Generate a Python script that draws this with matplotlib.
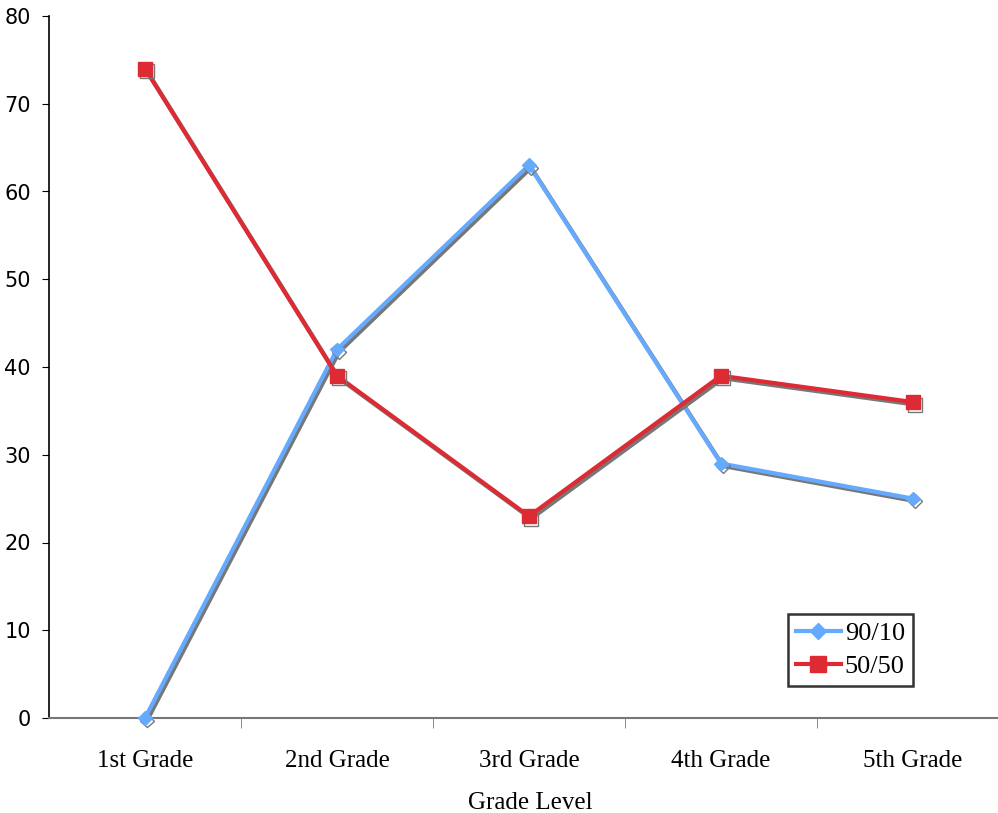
import matplotlib.pyplot as plt
import matplotlib.patheffects as pe
from matplotlib.lines import Line2D
import numpy as np

grades = ["1st Grade", "2nd Grade", "3rd Grade", "4th Grade", "5th Grade"]
s_90_10 = [0, 42, 63, 29, 25]
s_50_50 = [74, 39, 23, 39, 36]

blue = "#66aaff"
red = "#dd2a33"

W, H = 998, 813
fig = plt.figure(figsize=(W / 100, H / 100), dpi=100)
# axes spans from x=49 to 1009 px (right part runs off the canvas), y from 16 to 718 px
ax = fig.add_axes([49 / W, (H - 718) / H, 960 / W, (718 - 16) / H])

shadow = [pe.SimpleLineShadow(offset=(1.5, -1.8), shadow_color="#777777", alpha=1.0), pe.Normal()]
x = np.arange(len(grades))
ax.plot(x, s_90_10, color=blue, lw=3, marker="D", ms=7, mec=blue,
        path_effects=shadow, clip_on=False, zorder=3)
ax.plot(x, s_50_50, color=red, lw=3, marker="s", ms=10, mec=red,
        path_effects=shadow, clip_on=False, zorder=4)

ax.set_xlim(-0.5, 4.5)
ax.set_ylim(0, 80)
ax.set_yticks(range(0, 81, 10))
ax.set_xticks(x)
ax.set_xticklabels(grades, fontfamily="Liberation Serif", fontsize=18)
ax.set_xticks(np.arange(0.5, 4, 1), minor=True)
ax.tick_params(axis="x", which="major", length=0, pad=23)
ax.tick_params(axis="x", which="minor", length=7, color="#777777", direction="out")
ax.tick_params(axis="y", length=5, labelsize=15, pad=8)

for side in ["top", "right"]:
    ax.spines[side].set_visible(False)
ax.spines["bottom"].set_color("#777777")
ax.spines["bottom"].set_linewidth(1.5)
ax.spines["left"].set_linewidth(1.2)

ax.set_xlabel("Grade Level", fontfamily="Liberation Serif", fontsize=18)
ax.xaxis.set_label_coords((530 - 49) / 960, -(792 - 718) / 702)

handles = [Line2D([], [], color=blue, lw=3, marker="D", ms=8, mec=blue),
           Line2D([], [], color=red, lw=3, marker="s", ms=11, mec=red)]
leg = ax.legend(handles, ["90/10", "50/50"], loc="upper left",
                bbox_to_anchor=((788 - 49) / 960, (718 - 614) / 702),
                prop={"family": "Liberation Serif", "size": 19}, frameon=True,
                fancybox=False, borderpad=0.3, handlelength=1.7, handletextpad=0.15,
                labelspacing=0.35, borderaxespad=0)
leg.get_frame().set_edgecolor("black")
leg.get_frame().set_linewidth(1.8)

fig.savefig("out.png", dpi=100)
